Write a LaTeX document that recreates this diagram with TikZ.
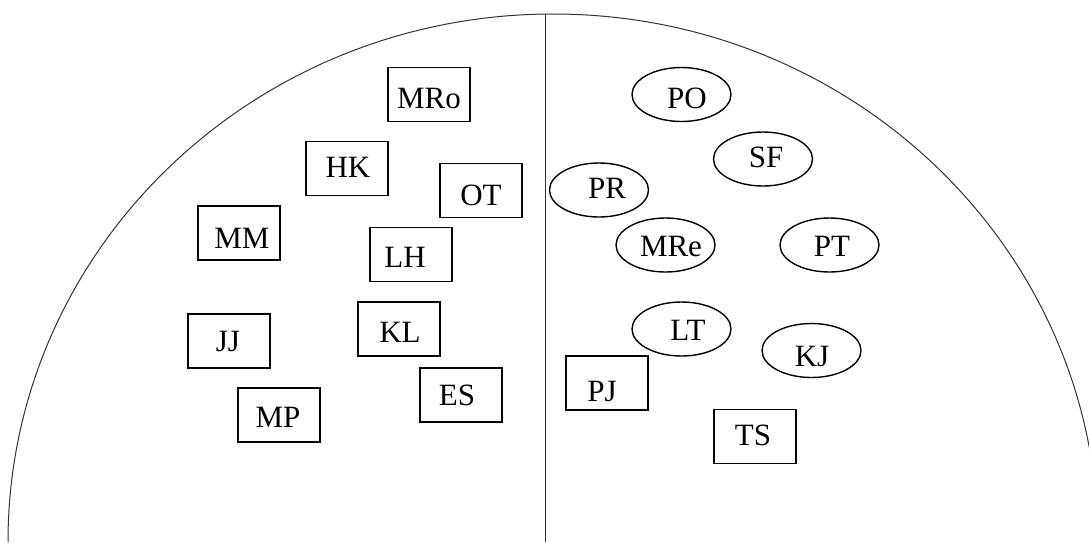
\documentclass[tikz,border=0pt]{standalone}
\usepackage{fontspec}
\setmainfont{Liberation Serif}
\usetikzlibrary{shapes.geometric}
% shifted label: #1 = 2*dx (pt), #2 = raise (pt), #3 = text
\newcommand\shtx[3]{\raisebox{#2pt}[0pt][0pt]{\makebox[0pt]{\hspace*{#1pt}#3}}}
\tikzset{
  lbl/.style={font=\fontsize{31}{36}\selectfont, inner sep=0pt, line width=1.4pt, draw=black},
  boxnode/.style={lbl, rectangle, minimum width=82pt, minimum height=54pt},
  ellnode/.style={lbl, ellipse, minimum width=99pt, minimum height=54pt},
  frame/.style={line width=1pt, draw=black!80},
}
\begin{document}
\begin{tikzpicture}[x=1pt,y=-1pt]
\useasboundingbox (0,0) rectangle (1089,542);
\clip (0,0) rectangle (1089,542);
\coordinate (arcL) at (8,542);
\coordinate (top) at (545,14);
\coordinate (bot) at (545,542);
\draw[frame] (arcL) arc[start angle=180, end angle=0, x radius=545pt, y radius=528pt];
\draw[frame] (top) -- (bot);
% boxes
\node[boxnode] (MRo) at (429,94.5) {\shtx{0}{-13.5}{MRo}};
\node[boxnode] (HK)  at (347,168.5) {\shtx{2}{-8.5}{HK}};
\node[boxnode] (OT)  at (481,190.5) {\shtx{0}{-14.5}{OT}};
\node[boxnode] (MM)  at (239,233) {\shtx{6}{-15}{MM}};
\node[boxnode] (LH)  at (411,254.5) {\shtx{-12}{-12.5}{LH}};
\node[boxnode] (JJ)  at (229,341) {\shtx{-2}{-10}{JJ}};
\node[boxnode] (KL)  at (399,329) {\shtx{2}{-13.5}{KL}};
\node[boxnode] (MP)  at (279,415) {\shtx{-2}{-12.5}{MP}};
\node[boxnode] (ES)  at (461,395) {\shtx{-8}{-10}{ES}};
\node[boxnode] (PJ)  at (607,383) {\shtx{-10}{-18}{PJ}};
\node[boxnode] (TS)  at (755,436.5) {\shtx{-4}{-8.5}{TS}};
% ellipses
\node[ellnode] (PO)  at (681.5,94.5) {\shtx{11}{-13.5}{PO}};
\node[ellnode] (SF)  at (763,159) {\shtx{6}{-8.5}{SF}};
\node[ellnode] (PR)  at (599,190) {\shtx{16}{-8}{PR}};
\node[ellnode] (MRe) at (665.5,245) {\shtx{11}{-11}{MRe}};
\node[ellnode] (PT)  at (829.5,245) {\shtx{5}{-11}{PT}};
\node[ellnode] (LT)  at (681.5,329) {\shtx{13}{-11.5}{LT}};
\node[ellnode] (KJ)  at (811.5,350.5) {\shtx{1}{-15.5}{KJ}};
\end{tikzpicture}
\end{document}
